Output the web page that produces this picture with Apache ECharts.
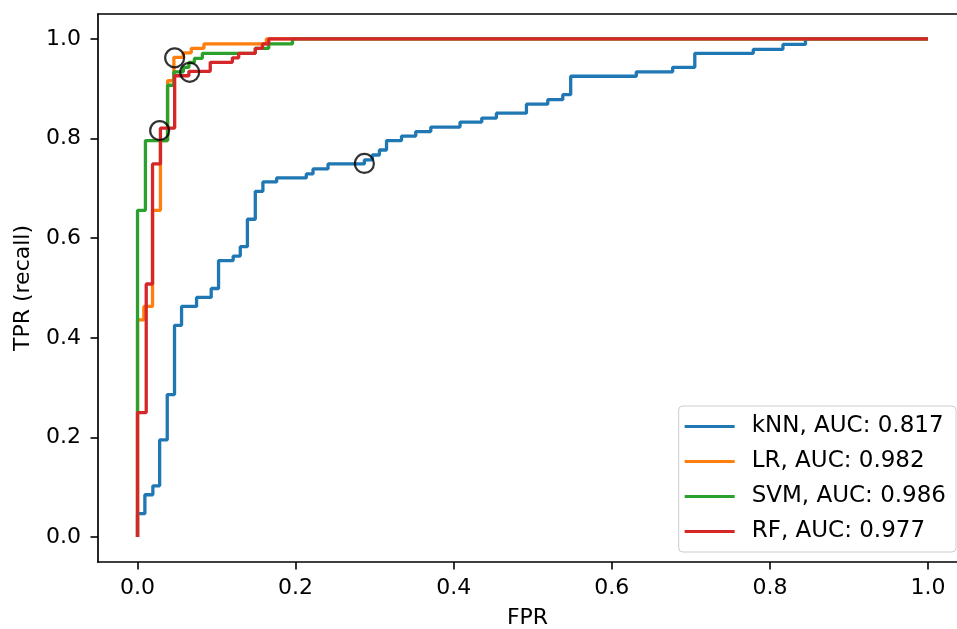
<!DOCTYPE html>
<html>
<head>
<meta charset="utf-8">
<title>ROC curves</title>
<script src="https://cdn.jsdelivr.net/npm/echarts@6.0.0/dist/echarts.min.js"></script>
<style>
  html, body { margin: 0; padding: 0; background: #fff; }
  #main { width: 957px; height: 629px; }
</style>
</head>
<body>
<div id="main"></div>
<script>
// tick positions on both axes
const tickValues = [0, 0.2, 0.4, 0.6, 0.8, 1.0]

// legend entries
const modelNames = ['kNN', 'LR', 'SVM', 'RF']
const aucValues = [0.817, 0.982, 0.986, 0.977]
const colors = ['#1f77b4', '#ff7f0e', '#2ca02c', '#d62728']

// step points: horizontal from previous point, then up to this tpr
const knnFpr = [0, 0, 0.0093, 0.0194, 0.028, 0.0376, 0.0468, 0.0557, 0.0747, 0.0932, 0.1025, 0.121, 0.130, 0.139, 0.149, 0.1586, 0.176, 0.2135, 0.222, 0.241, 0.287, 0.297, 0.306, 0.315, 0.334, 0.352, 0.371, 0.408, 0.4355, 0.454, 0.492, 0.519, 0.538, 0.548, 0.631, 0.677, 0.705, 0.779, 0.8165, 0.845, 1.0]
const knnTpr = [0, 0.047, 0.085, 0.103, 0.195, 0.286, 0.425, 0.463, 0.481, 0.499, 0.555, 0.564, 0.583, 0.638, 0.694, 0.713, 0.721, 0.729, 0.739, 0.749, 0.757, 0.767, 0.777, 0.796, 0.805, 0.814, 0.823, 0.833, 0.841, 0.851, 0.869, 0.878, 0.888, 0.925, 0.934, 0.943, 0.971, 0.979, 0.989, 1.0, 1.0]

const lrFpr = [0, 0, 0.008, 0.019, 0.029, 0.038, 0.046, 0.058, 0.068, 0.084, 0.163, 1.0]
const lrTpr = [0, 0.436, 0.463, 0.656, 0.796, 0.916, 0.963, 0.972, 0.981, 0.99, 1.0, 1.0]

const svmFpr = [0, 0, 0.01, 0.038, 0.046, 0.058, 0.065, 0.072, 0.082, 0.149, 0.166, 0.196, 1.0]
const svmTpr = [0, 0.656, 0.796, 0.907, 0.934, 0.943, 0.953, 0.961, 0.971, 0.981, 0.99, 1.0, 1.0]

const rfFpr = [0, 0, 0.011, 0.019, 0.029, 0.047, 0.065, 0.092, 0.12, 0.128, 0.149, 0.158, 0.166, 1.0]
const rfTpr = [0, 0.25, 0.508, 0.749, 0.821, 0.926, 0.935, 0.953, 0.962, 0.971, 0.981, 0.99, 1.0, 1.0]

// default-threshold markers (open circles)
const markFpr = [0.287, 0.047, 0.066, 0.028]
const markTpr = [0.75, 0.962, 0.933, 0.816]

const fpr = [knnFpr, lrFpr, svmFpr, rfFpr]
const tpr = [knnTpr, lrTpr, svmTpr, rfTpr]

const font = 'DejaVu Sans'
const fs = 22
// the right edge of the axes is cut off in the picture
const xMin = -0.05
const xMax = 1.0367

function pairs(xs, ys) {
  return xs.map((x, i) => [x, ys[i]])
}

const series = modelNames.map((m, i) => ({
  name: m + ', AUC: ' + aucValues[i].toFixed(3),
  type: 'line',
  step: 'end',
  symbol: 'none',
  data: pairs(fpr[i], tpr[i]),
  lineStyle: { color: colors[i], width: 3.3 },
  itemStyle: { color: colors[i] },
  z: 2 + i
}))

series.push({
  type: 'scatter',
  data: pairs(markFpr, markTpr),
  symbol: 'circle',
  symbolSize: 19,
  itemStyle: { color: 'rgba(0,0,0,0)', borderColor: '#000', borderWidth: 2.2 },
  z: 10
})

const labelFmt = v => v.toFixed(1)
const tickStyle = { show: true, length: 7.5, lineStyle: { color: '#000', width: 1.6 }, customValues: tickValues }
const frameLine = { show: true, onZero: false, lineStyle: { color: '#000', width: 1.7 } }

const options = {
  animation: false,
  backgroundColor: '#fff',
  textStyle: { fontFamily: font },
  grid: {
    left: 98,
    top: 14,
    bottom: 67,
    right: 0,
    show: false,
    containLabel: false,
    outerBoundsMode: 'none'
  },
  legend: {
    orient: 'vertical',
    right: 1,
    top: 406,
    data: series.slice(0, 4).map(s => s.name),
    icon: 'rect',
    itemWidth: 50,
    itemHeight: 3,
    itemGap: 12,
    padding: [9, 10, 9, 6],
    borderColor: '#cccccc',
    borderWidth: 1,
    borderRadius: 4,
    backgroundColor: 'rgba(255,255,255,0.8)',
    textStyle: { fontFamily: font, fontSize: 23, color: '#000', padding: [0, 0, 0, 12] }
  },
  xAxis: [{
    type: 'value',
    min: xMin,
    max: xMax,
    name: 'FPR',
    nameLocation: 'middle',
    nameGap: 45,
    nameTextStyle: { fontFamily: font, fontSize: fs, color: '#000' },
    axisLine: frameLine,
    splitLine: { show: false },
    axisTick: tickStyle,
    axisLabel: { customValues: tickValues, formatter: labelFmt, fontSize: fs, color: '#000', margin: 15, fontFamily: font }
  }, {
    type: 'value',
    position: 'top',
    min: xMin,
    max: xMax,
    axisLine: frameLine,
    splitLine: { show: false },
    axisTick: { show: false },
    axisLabel: { show: false }
  }],
  yAxis: {
    type: 'value',
    min: -0.05,
    max: 1.05,
    name: 'TPR (recall)',
    nameLocation: 'middle',
    nameGap: 64,
    nameTextStyle: { fontFamily: font, fontSize: fs, color: '#000' },
    axisLine: frameLine,
    splitLine: { show: false },
    axisTick: tickStyle,
    axisLabel: { customValues: tickValues, formatter: labelFmt, fontSize: fs, color: '#000', margin: 17, fontFamily: font }
  },
  series: series
}

var myChart = echarts.init(document.getElementById('main'))
myChart.setOption(options)
</script>
</body>
</html>
